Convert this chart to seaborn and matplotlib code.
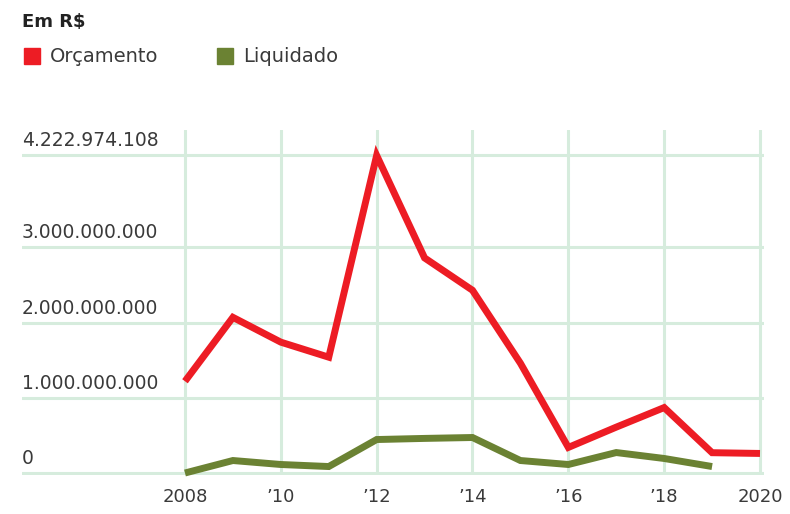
import numpy as np
import pandas as pd
import seaborn as sns
import matplotlib.pyplot as plt
from matplotlib.patches import Patch
from matplotlib.transforms import ScaledTranslation

# dados
anos = list(range(2008, 2021))
orcamento = [1.22e9, 2.07e9, 1.74e9, 1.54e9, 4222974108, 2.86e9, 2.43e9,
             1.46e9, 0.34e9, 0.61e9, 0.87e9, 0.27e9, 0.26e9]
liquidado = [0.0, 0.166e9, 0.113e9, 0.086e9, 0.445e9, 0.46e9, 0.472e9,
             0.166e9, 0.113e9, 0.272e9, 0.193e9, 0.086e9, np.nan]

y_ticks = [0, 1e9, 2e9, 3e9, 4222974108]
y_labels = ['0', '1.000.000.000', '2.000.000.000', '3.000.000.000', '4.222.974.108']
x_ticks = [2008, 2010, 2012, 2014, 2016, 2018, 2020]
x_labels = ['2008', '’10', '’12', '’14', '’16', '’18', '2020']

cores = {'Orçamento': '#ED1C24', 'Liquidado': '#6B8233'}

df = pd.DataFrame({'ano': anos, 'Orçamento': orcamento, 'Liquidado': liquidado})
df_long = df.melt(id_vars='ano', var_name='serie', value_name='valor').dropna()

sns.set_style('white')
plt.rcParams['font.family'] = ['DejaVu Sans']
texto = '#3a3a3a'
grade = '#d6ecdd'

fig = plt.figure(figsize=(7.9, 5.14), dpi=100)
# eixo de 130px (topo) a 475px (base); zero fica em 473px
ax = fig.add_axes([22 / 790, 39 / 514, 742 / 790, 345 / 514])

sns.lineplot(data=df_long, x='ano', y='valor', hue='serie', palette=cores,
             hue_order=['Liquidado', 'Orçamento'], linewidth=5,
             legend=False, ax=ax)
for ln in ax.get_lines():
    ln.set_solid_capstyle('butt')
    ln.set_solid_joinstyle('miter')
    ln.set_clip_on(False)

px = 1e9 / 75.2
ax.set_xlim(2008 - 163 / 47.92, 2020 + 4 / 47.92)
ax.set_ylim(-2 * px, 343 * px)

ax.set_xticks(x_ticks)
ax.set_xticklabels(x_labels, fontsize=13, color=texto)
ax.set_yticks(y_ticks)
ax.set_yticklabels([])
ax.tick_params(length=0, pad=9)
ax.grid(True, color=grade, linewidth=2.2)
ax.set_axisbelow(True)
for s in ax.spines.values():
    s.set_visible(False)
ax.set_xlabel('')
ax.set_ylabel('')

# rótulos do eixo y acima das linhas de grade
desloc = ScaledTranslation(0, 5 / 100, fig.dpi_scale_trans)
for v, lab in zip(y_ticks, y_labels):
    ax.text(0, v, lab, transform=ax.get_yaxis_transform() + desloc, ha='left',
            va='bottom', fontsize=13.5, color=texto)

fig.text(22 / 790, 1 - 22 / 514, 'Em R$', fontsize=13, fontweight='bold',
         color='#222222', va='center', ha='left')

handles = [Patch(color=cores['Orçamento'], label='Orçamento'),
           Patch(color=cores['Liquidado'], label='Liquidado')]
fig.legend(handles=handles, loc='center left', bbox_to_anchor=(16 / 790, 1 - 57 / 514),
           ncol=2, frameon=False, fontsize=14, handlelength=0.85, handleheight=0.85,
           handletextpad=0.5, columnspacing=3.0, labelcolor=texto, borderaxespad=0)

fig.savefig('out.png', dpi=100)
